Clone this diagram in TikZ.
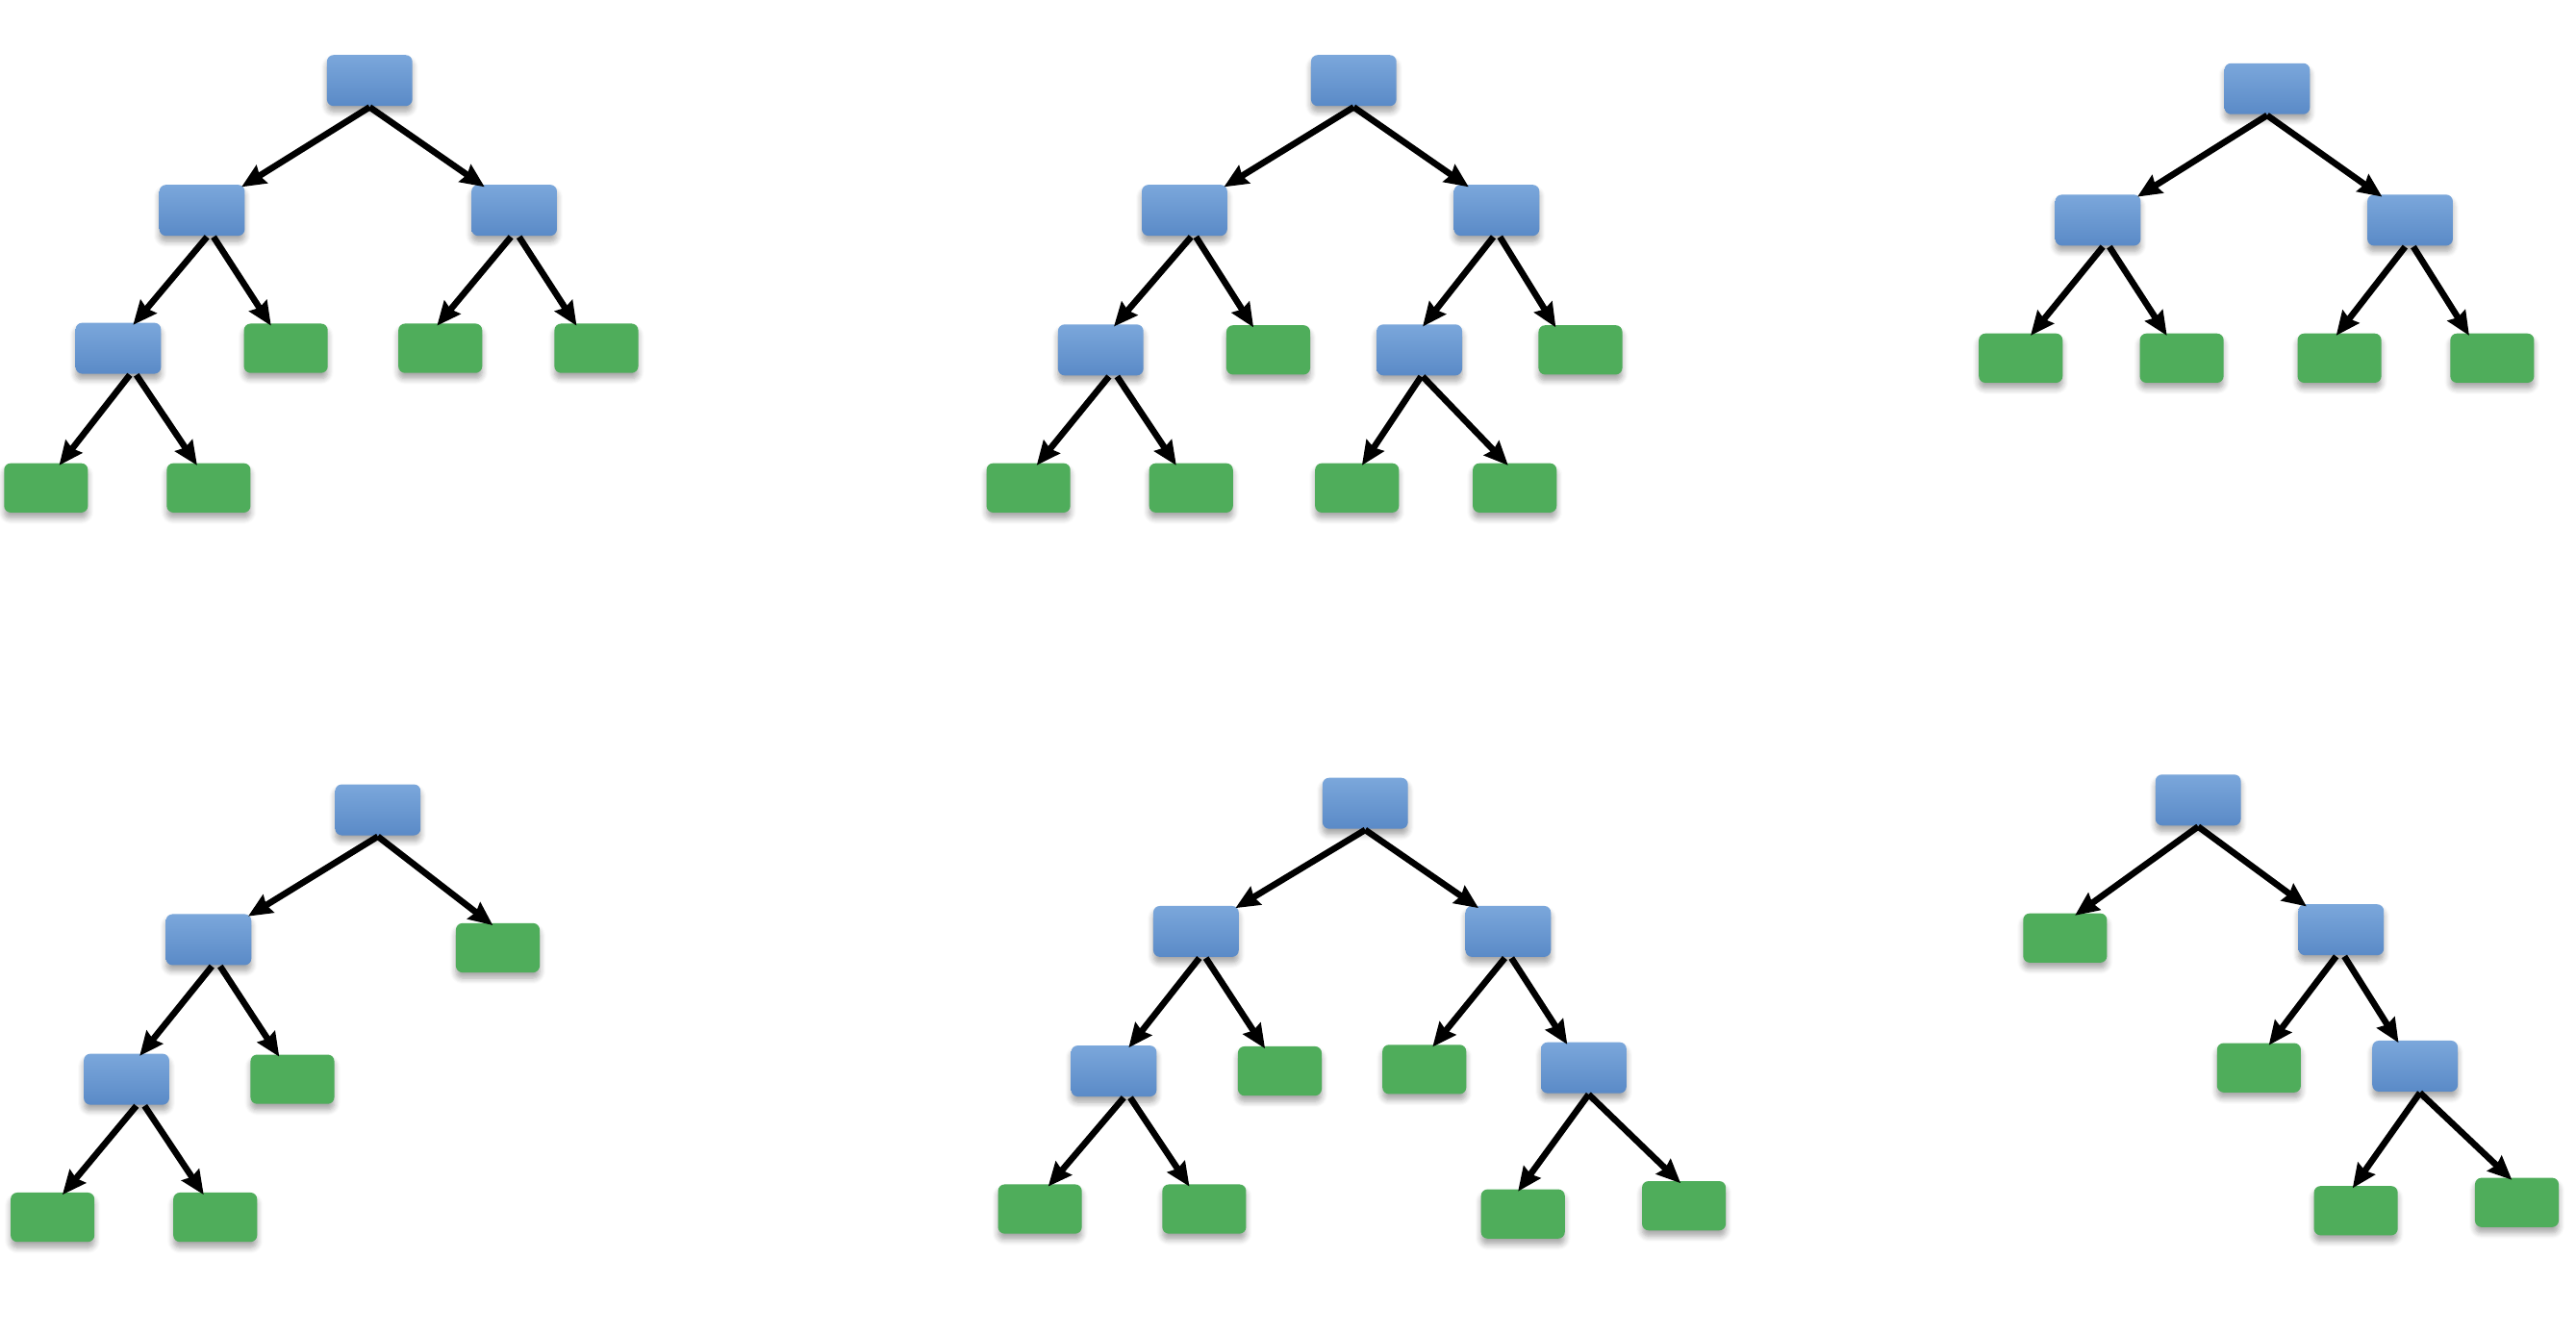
\documentclass[tikz,border=0pt]{standalone}
\usetikzlibrary{arrows.meta,calc,shadows.blur}

\definecolor{splittop}{HTML}{7BA7DB}
\definecolor{splitbot}{HTML}{5A8AC7}
\definecolor{leafgreen}{HTML}{4FAD5B}

\tikzset{
  box/.style={rectangle, rounded corners=0.4mm, inner sep=0pt,
    minimum width=5.2mm, minimum height=3.1mm,
    blur shadow={shadow blur steps=6, shadow xshift=0mm, shadow yshift=-0.35mm,
      shadow blur radius=0.35mm, shadow opacity=35}},
  split/.style={box, top color=splittop, bottom color=splitbot, draw=none},
  leaf/.style={box, fill=leafgreen, minimum width=5.1mm, minimum height=3.0mm},
  edge/.style={line width=1.1pt, -{Stealth[length=1.45mm,width=1.25mm,inset=0.15mm]}}
}

\begin{document}
\begin{tikzpicture}[x=0.1mm,y=-0.1mm]
\useasboundingbox (0,0) rectangle (1568,812);

% top left
\node[split] (ar) at (225,49) {};
\node[split] (aa) at (123,128) {};
\node[split] (ab) at (313,128) {};
\node[split] (ac) at (72,212) {};
\node[leaf] (ad) at (174,212) {};
\node[leaf] (ae) at (268,212) {};
\node[leaf] (af) at (363,212) {};
\node[leaf] (ag) at (28,297) {};
\node[leaf] (ah) at (127,297) {};

% top middle
\node[split] (br) at (824,49) {};
\node[split] (ba) at (721,128) {};
\node[split] (bb) at (911,128) {};
\node[split] (bc) at (670,213) {};
\node[leaf] (bd) at (772,213) {};
\node[split] (be) at (864,213) {};
\node[leaf] (bf) at (962,213) {};
\node[leaf] (bg) at (626,297) {};
\node[leaf] (bh) at (725,297) {};
\node[leaf] (bi) at (826,297) {};
\node[leaf] (bj) at (922,297) {};

% top right
\node[split] (cr) at (1380,54) {};
\node[split] (ca) at (1277,134) {};
\node[split] (cb) at (1467,134) {};
\node[leaf] (cc) at (1230,218) {};
\node[leaf] (cd) at (1328,218) {};
\node[leaf] (ce) at (1424,218) {};
\node[leaf] (cf) at (1517,218) {};

% bottom left
\node[split] (dr) at (230,493) {};
\node[split] (da) at (127,572) {};
\node[leaf] (db) at (303,577) {};
\node[split] (dc) at (77,657) {};
\node[leaf] (dd) at (178,657) {};
\node[leaf] (de) at (32,741) {};
\node[leaf] (df) at (131,741) {};

% bottom middle
\node[split] (er) at (831,489) {};
\node[split] (ea) at (728,567) {};
\node[split] (eb) at (918,567) {};
\node[split] (ec) at (678,652) {};
\node[leaf] (ed) at (779,652) {};
\node[leaf] (ee) at (867,651) {};
\node[split] (ef) at (964,650) {};
\node[leaf] (eg) at (633,736) {};
\node[leaf] (eh) at (733,736) {};
\node[leaf] (ei) at (927,739) {};
\node[leaf] (ej) at (1025,734) {};

% bottom right
\node[split] (fr) at (1338,487) {};
\node[leaf] (fa) at (1257,571) {};
\node[split] (fb) at (1425,566) {};
\node[leaf] (fc) at (1375,650) {};
\node[split] (fd) at (1470,649) {};
\node[leaf] (fe) at (1434,737) {};
\node[leaf] (ff) at (1532,732) {};

% parent / start shift / child / end shift
\foreach \p/\s/\c/\e in {ar/0/aa/24, ar/0/ab/-18, aa/3/ac/9, aa/7/ad/-9,
  ab/-2/ae/-2, ab/3/af/-12, ac/7/ag/8, ac/11/ah/-7,
  br/0/ba/24, br/0/bb/-17, ba/4/bc/8, ba/7/bd/-9, bb/-2/be/2, bb/2/bf/-15,
  bc/5/bg/5, bc/10/bh/-9, be/1/bi/3, be/2/bj/-4,
  cr/0/ca/24, cr/0/cb/-17, ca/3/cc/6, ca/7/cd/-9, cb/-3/ce/-2, cb/2/cf/-14,
  dr/0/da/24, dr/0/db/-3, da/2/dc/8, da/7/dd/-8, dc/6/de/6, dc/11/df/-7,
  er/0/ea/24, er/0/eb/-18, ea/2/ec/9, ea/6/ed/-9, eb/-2/ee/5, eb/2/ef/-10,
  ec/6/eg/5, ec/10/eh/-9, ef/3/ei/-3, ef/3/ej/-2,
  fr/0/fa/6, fr/0/fb/-21, fb/-3/fc/6, fb/2/fd/-10, fd/3/fe/-2, fd/3/ff/-3}
  \draw[edge] ($(\p.south)+(\s,0)$) -- ($(\c.north)+(\e,2)$);
\end{tikzpicture}
\end{document}
